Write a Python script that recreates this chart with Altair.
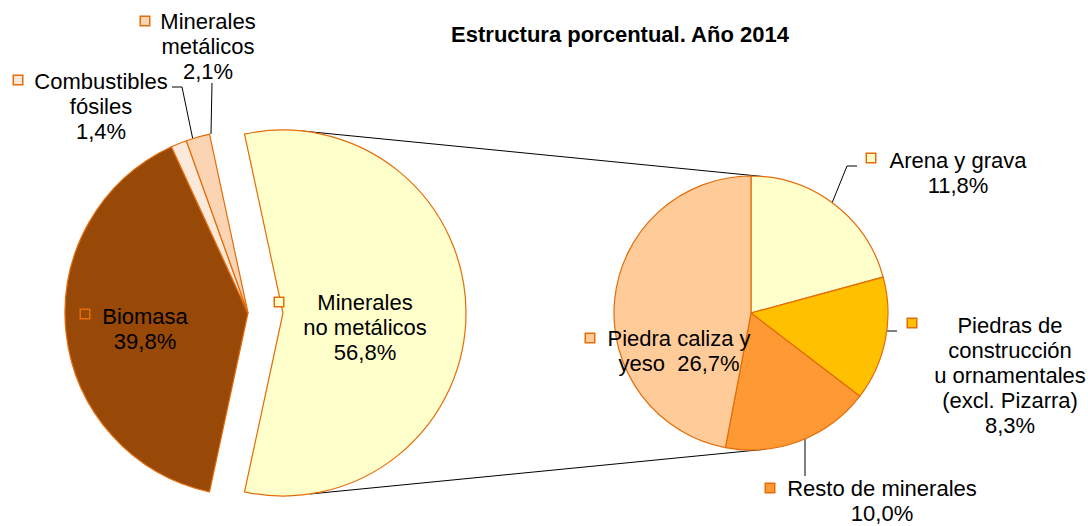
import math
import altair as alt
import pandas as pd

# ---------------- data ----------------
main_cats = ["Minerales no metálicos", "Biomasa", "Combustibles fósiles", "Minerales metálicos"]
main_vals = [56.8, 39.8, 1.4, 2.1]
main_labels = ["Minerales\nno metálicos", "Biomasa", "Combustibles\nfósiles", "Minerales\nmetálicos"]

sec_cats = ["Arena y grava", "Piedras de construcción u ornamentales (excl. Pizarra)",
            "Resto de minerales", "Piedra caliza y yeso"]
sec_vals = [11.8, 8.3, 10.0, 26.7]
sec_labels = ["Arena y grava", "Piedras de\nconstrucción\nu ornamentales\n(excl. Pizarra)",
              "Resto de minerales", "Piedra caliza y\nyeso\u00a0"]
sec_sep = ["\n", "\n", "\n", " "]

title_text = "Estructura porcentual. Año 2014"

# ---------------- styles / layout ----------------
main_colors = ["#FFFFCC", "#984807", "#FDE9D9", "#FBD4B4"]
sec_colors = ["#FFFFCC", "#FFC000", "#FF9933", "#FFCC99"]
EDGE = "#E46C0A"
FONT = "Liberation Sans"
W, H = 1088, 526
MAIN_CX, MAIN_CY, MAIN_R, EXPLODE = 248, 313, 183, 35
SEC_CX, SEC_CY, SEC_R = 751, 313, 137

# label (centre x, first-line y) and marker positions (pixels)
main_label_pos = {
    "Minerales no metálicos": (365, 303, 279, 302),
    "Biomasa": (145, 317, 85, 314),
    "Combustibles fósiles": (101, 82, 18, 80),
    "Minerales metálicos": (208, 22, 145, 21),
}
sec_label_pos = {
    "Arena y grava": (958, 161, 871, 158),
    "Piedras de construcción u ornamentales (excl. Pizarra)": (1010, 326, 912, 323),
    "Resto de minerales": (882, 489, 770, 488),
    "Piedra caliza y yeso": (679, 339, 590, 338),
}


def pct(v):
    return f"{v:.1f}".replace(".", ",") + "%"


# ---------------- pies ----------------
main_df = pd.DataFrame({"cat": main_cats, "val": main_vals, "idx": list(range(len(main_cats)))})
sec_df = pd.DataFrame({"cat": sec_cats, "val": sec_vals, "idx": list(range(len(sec_cats)))})

a0 = math.pi / 2 - math.pi * main_vals[0] / sum(main_vals)


def pie_base(df):
    return (
        alt.Chart(df)
        .transform_window(cum="sum(val)", sort=[alt.SortField("idx")], frame=[None, 0])
        .transform_joinaggregate(total="sum(val)")
        .transform_calculate(s0="(datum.cum - datum.val) / datum.total", s1="datum.cum / datum.total")
    )


main_color = alt.Color("cat:N", scale=alt.Scale(domain=main_cats, range=main_colors), legend=None)
sec_color = alt.Color("cat:N", scale=alt.Scale(domain=sec_cats, range=sec_colors), legend=None)
main_theta = alt.Theta("s0:Q", scale=alt.Scale(domain=[0, 1], range=[a0, a0 + 2 * math.pi]))

main_rest = pie_base(main_df).transform_filter(f"datum.cat != '{main_cats[0]}'").mark_arc(
    radius=MAIN_R, stroke=EDGE, strokeWidth=1.2
).encode(theta=main_theta, theta2="s1", color=main_color,
         x=alt.value(MAIN_CX), y=alt.value(MAIN_CY))

main_exp = pie_base(main_df).transform_filter(f"datum.cat == '{main_cats[0]}'").mark_arc(
    radius=MAIN_R, stroke=EDGE, strokeWidth=1.2
).encode(theta=main_theta, theta2="s1", color=main_color,
         x=alt.value(MAIN_CX + EXPLODE), y=alt.value(MAIN_CY))

sec_pie = pie_base(sec_df).mark_arc(radius=SEC_R, stroke=EDGE, strokeWidth=1.2).encode(
    theta=alt.Theta("s0:Q", scale=alt.Scale(domain=[0, 1], range=[0, 2 * math.pi])),
    theta2="s1", color=sec_color, x=alt.value(SEC_CX), y=alt.value(SEC_CY))


# ---------------- connector and leader lines ----------------
def on_circle(cx, cy, r, deg):
    a = math.radians(deg)
    return cx + r * math.sin(a), cy - r * math.cos(a)


ex_cx = MAIN_CX + EXPLODE
p1 = on_circle(ex_cx, MAIN_CY, MAIN_R, 6)
q1 = on_circle(SEC_CX, SEC_CY, SEC_R, 6)
p2 = on_circle(ex_cx, MAIN_CY, MAIN_R, 171.5)
q2 = on_circle(SEC_CX, SEC_CY, SEC_R, 174)

segments = [
    (p1[0], p1[1], q1[0], q1[1]),
    (p2[0], p2[1], q2[0], q2[1]),
    # leaders
    (172, 87, 182, 87), (182, 87, 193, 140),
    (212, 83, 211, 134),
    (857, 166, 847, 166), (847, 166, 832, 203),
    (897, 331, 887, 331),
    (805, 438, 805, 476),
]
seg_df = pd.DataFrame(segments, columns=["x", "y", "x2", "y2"])
lines = alt.Chart(seg_df).mark_rule(color="black", strokeWidth=1).encode(
    x=alt.X("x:Q", scale=None), y=alt.Y("y:Q", scale=None),
    x2="x2:Q", y2="y2:Q")

# ---------------- labels ----------------
rows = []
for c, v, lab in zip(main_cats, main_vals, main_labels):
    tx, ty, mx, my = main_label_pos[c]
    rows.append({"cat": c, "text": lab + "\n" + pct(v), "tx": tx, "ty": ty, "mx": mx, "my": my, "grp": "main"})
for c, v, lab, sep in zip(sec_cats, sec_vals, sec_labels, sec_sep):
    tx, ty, mx, my = sec_label_pos[c]
    rows.append({"cat": c, "text": lab + sep + pct(v), "tx": tx, "ty": ty, "mx": mx, "my": my, "grp": "sec"})
lab_df = pd.DataFrame(rows)

texts = alt.Chart(lab_df).mark_text(
    align="center", baseline="middle", lineBreak="\n", lineHeight=25,
    fontSize=22, font=FONT, color="black"
).encode(x=alt.X("tx:Q", scale=None), y=alt.Y("ty:Q", scale=None), text="text:N")

main_marks = alt.Chart(lab_df).transform_filter("datum.grp == 'main'").mark_square(
    size=90, stroke=EDGE, strokeWidth=1.5, opacity=1
).encode(x=alt.X("mx:Q", scale=None), y=alt.Y("my:Q", scale=None), color=main_color)

sec_marks = alt.Chart(lab_df).transform_filter("datum.grp == 'sec'").mark_square(
    size=90, stroke=EDGE, strokeWidth=1.5, opacity=1
).encode(x=alt.X("mx:Q", scale=None), y=alt.Y("my:Q", scale=None), color=sec_color)

title = alt.Chart(pd.DataFrame({"t": [title_text]})).mark_text(
    align="center", baseline="middle", fontSize=22, fontWeight="bold", font=FONT, color="black"
).encode(x=alt.value(620), y=alt.value(35), text="t:N")

chart = alt.layer(
    lines, main_rest, main_exp, sec_pie, main_marks, sec_marks, texts, title
).resolve_scale(color="independent", theta="independent").properties(
    width=W, height=H, autosize=alt.AutoSizeParams(type="none"), padding=0,
    background="white"
).configure_view(stroke=None)

chart.save("out.html", embed_options={"renderer": "svg", "actions": False})
